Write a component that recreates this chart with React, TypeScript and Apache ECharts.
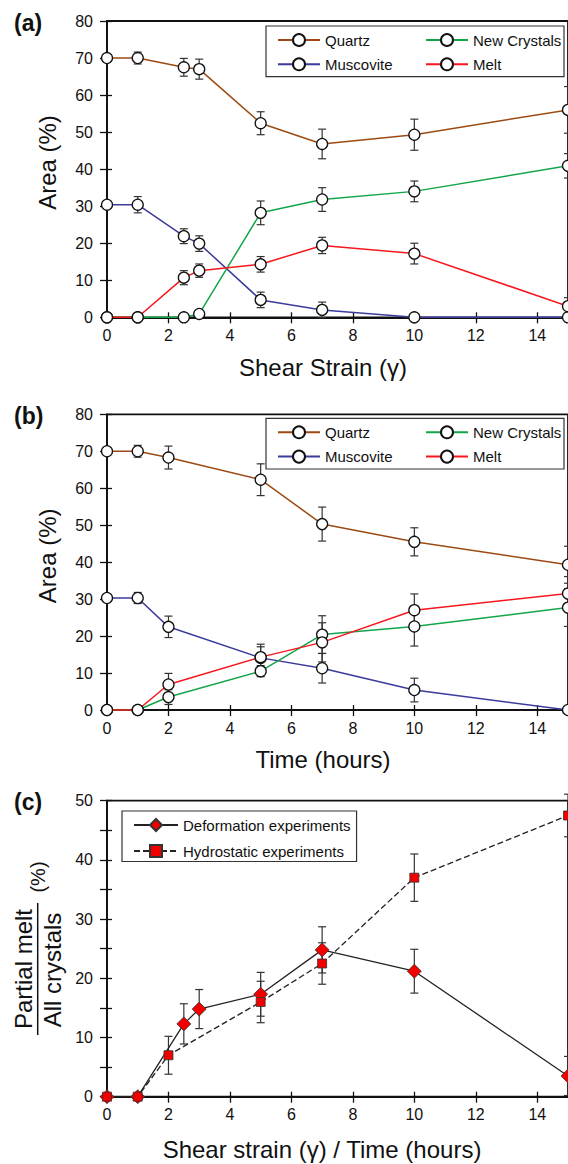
import React, { useEffect, useRef } from 'react';
import * as echarts from 'echarts';

// ---------- data ----------
const strainA = [0, 1, 2.5, 3, 5, 7, 10, 15];
const quartzA = [70, 70, 67.5, 67, 52.4, 46.8, 49.3, 56];
const quartzAErr = [0, 1.6, 2.4, 2.7, 3.1, 4, 4.2, 6.3];
const muscoviteA = [30.4, 30.4, 21.9, 19.9, 4.7, 2.0, 0, 0];
const muscoviteAErr = [0, 2.2, 2, 2.1, 2.1, 2.1, 0, 0];
const newCrystalsA = [0, 0, 0, 0.9, 28.2, 31.8, 34.0, 40.9];
const newCrystalsAErr = [0, 0, 0, 0.8, 3.2, 3.2, 2.8, 3.3];
const meltA = [0, 0, 10.7, 12.6, 14.3, 19.4, 17.2, 3.0];
const meltAErr = [0, 0, 1.9, 1.8, 2.1, 2.2, 2.8, 2.3];

const timeB = [0, 1, 2, 5, 7, 10, 15];
const quartzB = [70, 70, 68.3, 62.3, 50.3, 45.5, 39.3];
const quartzBErr = [0, 1.6, 3.1, 4.3, 4.6, 3.8, 5];
const muscoviteB = [30.3, 30.3, 22.5, 14.1, 11.3, 5.4, 0];
const muscoviteBErr = [0, 1.5, 2.9, 3, 4, 3.2, 0];
const newCrystalsB = [0, 0, 3.5, 10.5, 20.4, 22.6, 27.7];
const newCrystalsBErr = [0, 0, 2, 1.5, 5.1, 5.3, 5.1];
const meltB = [0, 0, 6.9, 14.3, 18.3, 27.0, 31.5];
const meltBErr = [0, 0, 3, 3.5, 5.3, 4.4, 4.6];

const deformation = [0, 0, 12.3, 14.8, 17.3, 24.8, 21.2, 3.5];
const deformationErr = [0, 0, 3.4, 3.3, 3.7, 3.9, 3.7, 3.3];
const hydrostatic = [0, 0, 7.0, 16.0, 22.5, 37.0, 47.5];
const hydrostaticErr = [0, 0, 3.2, 3.5, 3.5, 4, 3.6];

const mineralNames = ['Quartz', 'Muscovite', 'New Crystals', 'Melt'];
const meltNames = ['Deformation experiments', 'Hydrostatic experiments'];

// ---------- styling ----------
const FONT = "'Liberation Sans', Arial, Helvetica, sans-serif";
const AX = '#111';
const COLORS: Record<string, string> = {
  Quartz: '#9C4A12',
  Muscovite: '#3B3B9C',
  'New Crystals': '#14A54A',
  Melt: '#F5161E',
};

const GRIDS = [
  { top: 21, height: 296.3 },
  { top: 414.3, height: 295.7 },
  { top: 800.7, height: 296 },
];

function axesFor(g: number, yMax: number, yInterval: number, labelEvery: number) {
  const tickStyle = { color: AX, width: 1.3 };
  const xMain = {
    gridIndex: g, type: 'value', min: 0, max: 15, interval: 2, position: 'bottom',
    axisLine: { show: true, onZero: false, lineStyle: { color: AX, width: 1.8 } },
    axisTick: { show: true, inside: false, length: 6, lineStyle: tickStyle },
    axisLabel: { show: true, margin: 10, fontSize: 16, color: AX, fontFamily: FONT, showMaxLabel: false },
    splitLine: { show: false },
  };
  const xInner = {
    gridIndex: g, type: 'value', min: 0, max: 15, interval: 2, position: 'bottom',
    axisLine: { show: false },
    axisTick: { show: true, inside: true, length: 5, lineStyle: tickStyle },
    axisLabel: { show: false }, splitLine: { show: false },
  };
  const yMain = {
    gridIndex: g, type: 'value', min: 0, max: yMax, interval: yInterval, position: 'left',
    axisLine: { show: true, onZero: false, lineStyle: { color: AX, width: 1.8 } },
    axisTick: { show: true, inside: false, length: 7, lineStyle: tickStyle },
    axisLabel: {
      show: true, margin: 14, fontSize: 16, color: AX, fontFamily: FONT,
      formatter: (v: number) => (v % labelEvery === 0 ? String(v) : ''),
    },
    splitLine: { show: false },
  };
  const yInner = {
    gridIndex: g, type: 'value', min: 0, max: yMax, interval: yInterval, position: 'left',
    axisLine: { show: false },
    axisTick: { show: true, inside: true, length: 5, lineStyle: tickStyle },
    axisLabel: { show: false }, splitLine: { show: false },
  };
  return { x: [xMain, xInner], y: [yMain, yInner] };
}

function errSeries(g: number, xs: number[], ys: number[], es: number[]) {
  const data = xs.map((x, i) => [x, ys[i], es[i]]).filter((d) => d[2] > 0);
  return {
    type: 'custom', xAxisIndex: 2 * g, yAxisIndex: 2 * g, z: 1, silent: true,
    data, encode: { x: 0, y: 1 },
    renderItem: (_p: any, api: any) => {
      const x = api.value(0), y = api.value(1), e = api.value(2);
      const top = api.coord([x, y + e]);
      const bot = api.coord([x, y - e]);
      const c = 4;
      const style = { stroke: '#333', lineWidth: 1.2 };
      return {
        type: 'group',
        children: [
          { type: 'line', shape: { x1: top[0], y1: top[1], x2: bot[0], y2: bot[1] }, style },
          { type: 'line', shape: { x1: top[0] - c, y1: top[1], x2: top[0] + c, y2: top[1] }, style },
          { type: 'line', shape: { x1: bot[0] - c, y1: bot[1], x2: bot[0] + c, y2: bot[1] }, style },
        ],
      };
    },
  };
}

function mineralSeries(g: number, name: string, xs: number[], ys: number[]) {
  return {
    type: 'line', name, xAxisIndex: 2 * g, yAxisIndex: 2 * g, z: 3, clip: false,
    data: xs.map((x, i) => [x, ys[i]]),
    symbol: 'circle', symbolSize: 11, showAllSymbol: true,
    lineStyle: { color: COLORS[name], width: 1.5 },
    itemStyle: { color: '#fff', borderColor: AX, borderWidth: 1.3 },
  };
}

function buildOption() {
  const a = axesFor(0, 80, 10, 10);
  const b = axesFor(1, 80, 10, 10);
  const c = axesFor(2, 50, 5, 10);

  const legendCommon = {
    orient: 'vertical', itemWidth: 42, itemHeight: 15, itemGap: 9.3, padding: 0,
    selectedMode: false,
    textStyle: { fontSize: 15, color: AX, fontFamily: FONT },
  };

  const series: any[] = [
    errSeries(0, strainA, quartzA, quartzAErr),
    errSeries(0, strainA, muscoviteA, muscoviteAErr),
    errSeries(0, strainA, newCrystalsA, newCrystalsAErr),
    errSeries(0, strainA, meltA, meltAErr),
    mineralSeries(0, 'Quartz', strainA, quartzA),
    mineralSeries(0, 'Muscovite', strainA, muscoviteA),
    mineralSeries(0, 'New Crystals', strainA, newCrystalsA),
    mineralSeries(0, 'Melt', strainA, meltA),

    errSeries(1, timeB, quartzB, quartzBErr),
    errSeries(1, timeB, muscoviteB, muscoviteBErr),
    errSeries(1, timeB, newCrystalsB, newCrystalsBErr),
    errSeries(1, timeB, meltB, meltBErr),
    mineralSeries(1, 'Quartz', timeB, quartzB),
    mineralSeries(1, 'Muscovite', timeB, muscoviteB),
    mineralSeries(1, 'New Crystals', timeB, newCrystalsB),
    mineralSeries(1, 'Melt', timeB, meltB),

    errSeries(2, strainA, deformation, deformationErr),
    errSeries(2, timeB, hydrostatic, hydrostaticErr),
    {
      type: 'line', name: meltNames[0], xAxisIndex: 4, yAxisIndex: 4, z: 3, clip: false,
      data: strainA.map((x, i) => [x, deformation[i]]),
      symbol: 'diamond', symbolSize: 14,
      lineStyle: { color: '#222', width: 1.3 },
      itemStyle: { color: '#F20000', borderColor: '#333', borderWidth: 0.8 },
    },
    {
      type: 'line', name: meltNames[1], xAxisIndex: 4, yAxisIndex: 4, z: 3, clip: false,
      data: timeB.map((x, i) => [x, hydrostatic[i]]),
      symbol: 'rect', symbolSize: 9,
      lineStyle: { color: '#222', width: 1.3, type: [6, 3] },
      itemStyle: { color: '#F20000', borderColor: '#333', borderWidth: 0.8 },
    },
  ];

  const titleText = (text: string, x: number, y: number, size = 24, rot = 0) => ({
    type: 'text', x, y, rotation: rot, silent: true,
    style: { text, fontSize: size, fontFamily: FONT, fill: AX, align: 'center', verticalAlign: 'middle' },
  });
  const panelLabel = (text: string, y: number) => ({
    type: 'text', x: 14, y, silent: true,
    style: { text, fontSize: 23, fontWeight: 'bold', fontFamily: FONT, fill: AX, align: 'left', verticalAlign: 'middle' },
  });

  return {
    animation: false,
    grid: GRIDS.map((gr) => ({
      left: 107, width: 463, top: gr.top, height: gr.height, show: true,
      borderColor: AX, borderWidth: 1.8, backgroundColor: 'transparent',
    })),
    xAxis: [...a.x, ...b.x, ...c.x],
    yAxis: [...a.y, ...b.y, ...c.y],
    legend: [
      { ...legendCommon, data: mineralNames.slice(0, 2), left: 277, top: 32.5 },
      { ...legendCommon, data: mineralNames.slice(2, 4), left: 425, top: 32.5 },
      { ...legendCommon, data: mineralNames.slice(0, 2), left: 277, top: 424.8 },
      { ...legendCommon, data: mineralNames.slice(2, 4), left: 425, top: 424.8 },
      {
        ...legendCommon, data: meltNames, left: 122, top: 811, itemWidth: 44, itemGap: 11,
        padding: [6.5, 6, 3, 11], borderColor: '#333', borderWidth: 1.2,
      },
    ],
    graphic: [
      { type: 'rect', shape: { x: 266, y: 26, width: 298, height: 50.7 }, style: { fill: 'none', stroke: '#333', lineWidth: 1.2 }, silent: true },
      { type: 'rect', shape: { x: 266, y: 418.3, width: 298, height: 50.7 }, style: { fill: 'none', stroke: '#333', lineWidth: 1.2 }, silent: true },
      panelLabel('(a)', 23),
      panelLabel('(b)', 416),
      panelLabel('(c)', 802),
      titleText('Area (%)', 47.5, 162.5, 24, Math.PI / 2),
      titleText('Area (%)', 47.5, 555.8, 24, Math.PI / 2),
      titleText('Shear Strain (γ)', 323, 367.5),
      titleText('Time (hours)', 323, 759),
      titleText('Shear strain (γ) / Time (hours)', 322, 1149),
      titleText('Partial melt', 23.5, 969, 24, Math.PI / 2),
      titleText('All crystals', 52.5, 970, 24, Math.PI / 2),
      { type: 'line', shape: { x1: 37.7, y1: 903, x2: 37.7, y2: 1035 }, style: { stroke: AX, lineWidth: 1.5 }, silent: true },
      titleText('(%)', 37.5, 877, 20, Math.PI / 2),
    ],
    series,
  };
}

export default function App() {
  const ref = useRef<HTMLDivElement>(null);
  useEffect(() => {
    if (!ref.current) return;
    const chart = echarts.init(ref.current, undefined, { renderer: 'svg' });
    chart.setOption(buildOption() as any);
    return () => chart.dispose();
  }, []);
  return (
    <div
      ref={ref}
      style={{ position: 'absolute', left: 0, top: 0, width: 568, height: 1164, background: '#fff' }}
    />
  );
}
